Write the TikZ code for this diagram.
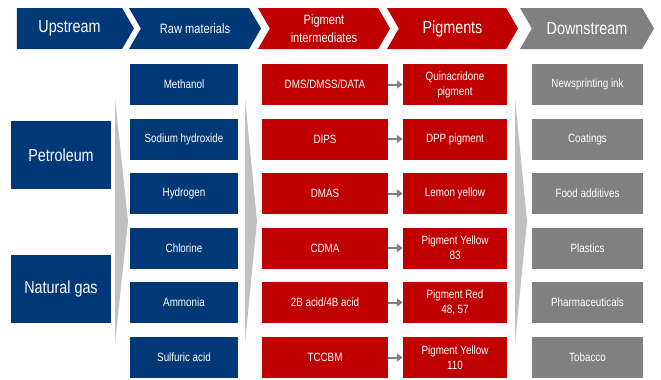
\documentclass[tikz,border=0pt]{standalone}
\usepackage{fontspec}
\setmainfont{Liberation Sans}[FakeStretch=0.82]
\usepackage{tikz}
\definecolor{navyblue}{RGB}{0, 56, 120}
\definecolor{darkred}{RGB}{192, 0, 0}
\definecolor{midgray}{RGB}{128, 128, 128}
\definecolor{fadegray}{RGB}{192, 192, 192}
\usetikzlibrary{shapes.symbols, arrows.meta}
\newcommand{\hdbig}{\fontsize{17.5}{20}\selectfont}
\newcommand{\hdsmall}{\fontsize{13.5}{18}\selectfont}

\begin{document}
\begin{tikzpicture}[x=1pt, y=-1pt,
    header/.style={signal, signal to=east, signal pointer angle=120,
        minimum height=41pt, inner sep=0pt, text=white, align=center},
    cellbox/.style={minimum height=41pt, inner sep=0pt, text=white,
        align=center, font=\fontsize{12}{15}\selectfont},
    bluebox/.style={cellbox, fill=navyblue, minimum width=108pt},
    redbox/.style={cellbox, fill=darkred},
    graybox/.style={cellbox, fill=midgray, minimum width=111pt},
    sourcebox/.style={fill=navyblue, text=white, minimum width=100pt,
        minimum height=68pt, inner sep=0pt, font=\hdbig},
    smallarrow/.style={midgray, line width=2pt, -{Triangle[length=6pt,width=8pt]}}]
    \useasboundingbox (0,0) rectangle (661,380);

    \node[header, fill=navyblue, minimum width=117pt, font=\hdbig] (upstream) at (69.5,28.5) {Upstream};
    \node[header, signal from=west, fill=navyblue, minimum width=132pt, font=\hdsmall] (rawmat) at (195,28.5) {Raw materials};
    \node[header, signal from=west, fill=darkred, minimum width=132pt, font=\hdsmall] (interm) at (324,28.5) {Pigment\\intermediates};
    \node[header, signal from=west, fill=darkred, minimum width=131pt, font=\hdbig] (pigments) at (452.5,28.5) {Pigments};
    \node[header, signal from=west, fill=midgray, minimum width=134pt, font=\hdbig] (downstream) at (587,28.5) {Downstream};

    \node[sourcebox] (petroleum) at (61,155) {Petroleum};
    \node[sourcebox] (natgas) at (61,289) {Natural gas};

    \fill[fadegray] (115,98) -- (128,221) -- (115,343) -- cycle;
    \fill[fadegray] (245,98) -- (257,221) -- (245,343) -- cycle;
    \fill[fadegray] (515,98) -- (527,221) -- (515,343) -- cycle;

    \node[bluebox] (methanol) at (184,84.5) {Methanol};
    \node[bluebox] (sodium) at (184,139) {Sodium hydroxide};
    \node[bluebox] (hydrogen) at (184,193.5) {Hydrogen};
    \node[bluebox] (chlorine) at (184,248) {Chlorine};
    \node[bluebox] (ammonia) at (184,302.5) {Ammonia};
    \node[bluebox] (sulfuric) at (184,357.5) {Sulfuric acid};

    \node[redbox, minimum width=126pt] (dms) at (325,84.5) {DMS/DMSS/DATA};
    \node[redbox, minimum width=126pt] (dips) at (325,139) {DIPS};
    \node[redbox, minimum width=126pt] (dmas) at (325,193.5) {DMAS};
    \node[redbox, minimum width=126pt] (cdma) at (325,248) {CDMA};
    \node[redbox, minimum width=126pt] (acid) at (325,302.5) {2B acid/4B acid};
    \node[redbox, minimum width=126pt] (tccbm) at (325,357.5) {TCCBM};

    \node[redbox, minimum width=104pt] (quinac) at (455,84.5) {Quinacridone\\pigment};
    \node[redbox, minimum width=104pt] (dpp) at (455,139) {DPP pigment};
    \node[redbox, minimum width=104pt] (lemon) at (455,193.5) {Lemon yellow};
    \node[redbox, minimum width=104pt] (py83) at (455,248) {Pigment Yellow\\83};
    \node[redbox, minimum width=104pt] (pr48) at (455,302.5) {Pigment Red\\48, 57};
    \node[redbox, minimum width=104pt] (py110) at (455,357.5) {Pigment Yellow\\110};

    \draw[smallarrow] (dms) -- (quinac);
    \draw[smallarrow] (dips) -- (dpp);
    \draw[smallarrow] (dmas) -- (lemon);
    \draw[smallarrow] (cdma) -- (py83);
    \draw[smallarrow] (acid) -- (pr48);
    \draw[smallarrow] (tccbm) -- (py110);

    \node[graybox] (newsink) at (587.5,84.5) {Newsprinting ink};
    \node[graybox] (coatings) at (587.5,139) {Coatings};
    \node[graybox] (food) at (587.5,193.5) {Food additives};
    \node[graybox] (plastics) at (587.5,248) {Plastics};
    \node[graybox] (pharma) at (587.5,302.5) {Pharmaceuticals};
    \node[graybox] (tobacco) at (587.5,357.5) {Tobacco};
\end{tikzpicture}
\end{document}
